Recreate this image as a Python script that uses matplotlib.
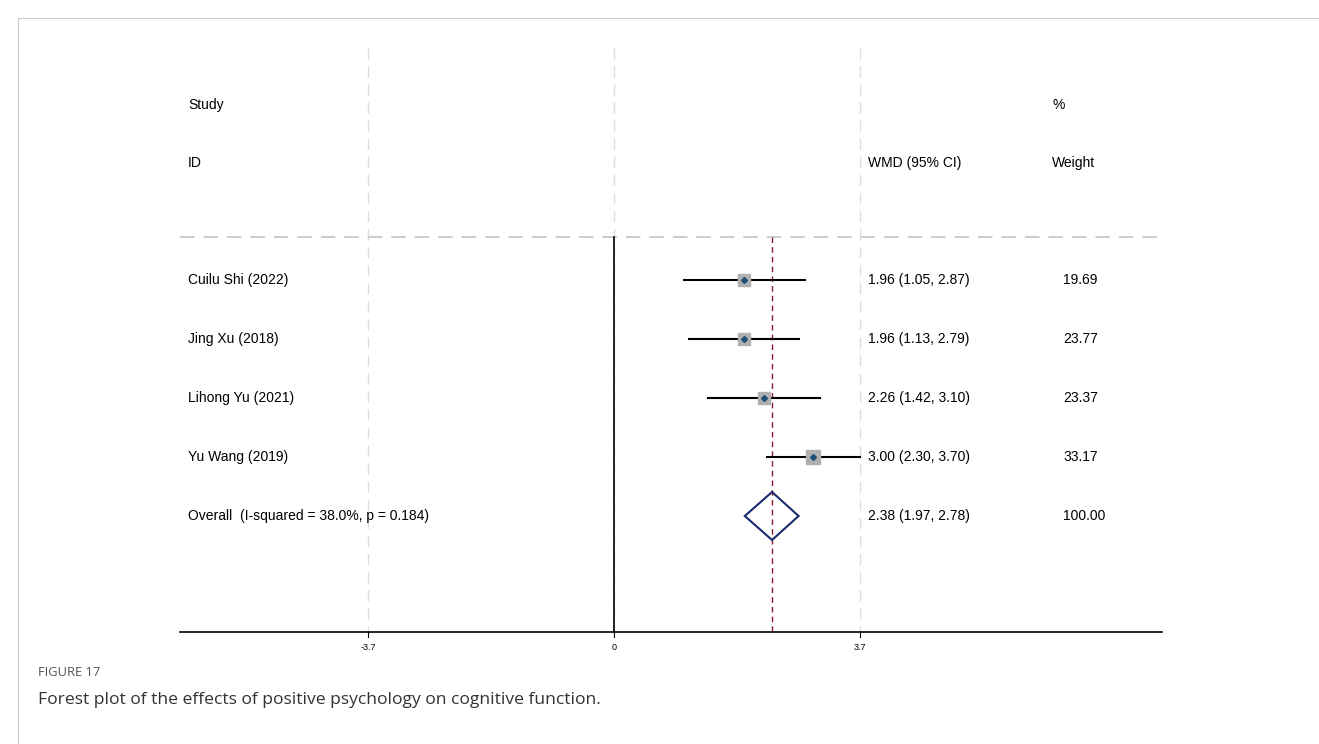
import numpy as np
import matplotlib.pyplot as plt
from matplotlib.patches import Polygon

plt.rcParams['font.family'] = ['Liberation Sans', 'DejaVu Sans']

# data
studies = ["Cuilu Shi (2022)", "Jing Xu (2018)", "Lihong Yu (2021)", "Yu Wang (2019)"]
wmd = [1.96, 1.96, 2.26, 3.00]
lo = [1.05, 1.13, 1.42, 2.30]
hi = [2.87, 2.79, 3.10, 3.70]
weights = [19.69, 23.77, 23.37, 33.17]
overall = (2.38, 1.97, 2.78)
overall_label = "Overall  (I-squared = 38.0%, p = 0.184)"
xticks = [-3.7, 0, 3.7]

# pixel-ish layout: x in data units, y in figure pixels (inverted)
scale = 66.4  # px per unit
x0px = 614
fig = plt.figure(figsize=(13.19, 7.44), dpi=100)
ax = fig.add_axes([0, 0, 1, 1])
ax.set_xlim(-x0px / scale, (1319 - x0px) / scale)
ax.set_ylim(744, 0)
ax.axis("off")

def px(p):
    return (p - x0px) / scale

rows_y = [280 + 59 * i for i in range(len(studies))]
over_y = 280 + 59 * len(studies)
axis_y = 632
fs = 10

# frame border
ax.plot([px(18), px(18), px(1319)], [744, 18, 18], color="#cccccc", lw=0.8)

# grey dashed gridlines
for t in xticks:
    ax.plot([t, t], [48, axis_y], color="#dddddd", lw=1, ls=(0, (8, 5)))
ax.plot([px(180), px(1162)], [237, 237], color="#c8c8c8", lw=1.3, ls=(0, (8, 5)))

# null line and overall line
ax.plot([0, 0], [237, axis_y], color="black", lw=1.2)
ax.plot([overall[0]] * 2, [237, axis_y], color="#8b1a2b", lw=1, ls=(0, (4, 3)))

# x axis
ax.plot([px(180), px(1162)], [axis_y, axis_y], color="black", lw=1.2)
for t in xticks:
    ax.plot([t, t], [axis_y, axis_y + 5], color="black", lw=0.8)
    ax.text(t, axis_y + 16, f"{t:g}", ha="center", va="center", fontsize=6.5)

# headers
ax.text(px(188), 105, "Study", fontsize=fs, va="center")
ax.text(px(188), 163, "ID", fontsize=fs, va="center")
ax.text(px(868), 163, "WMD (95% CI)", fontsize=fs, va="center")
ax.text(px(1052), 105, "%", fontsize=fs, va="center")
ax.text(px(1052), 163, "Weight", fontsize=fs, va="center")

for s, m, l, h, w, y in zip(studies, wmd, lo, hi, weights, rows_y):
    ax.plot([l, h], [y, y], color="black", lw=1.5, zorder=2)
    half = (4.5 + 0.07 * w) / scale
    hy = half * scale
    ax.add_patch(plt.Rectangle((m - half, y - hy), 2 * half, 2 * hy,
                               color="#b0b0b0", zorder=3))
    ax.plot(m, y, "D", color="#1f4e79", ms=3, zorder=4)
    ax.text(px(188), y, s, fontsize=fs, va="center")
    ax.text(px(868), y, f"{m:.2f} ({l:.2f}, {h:.2f})", fontsize=fs, va="center")
    ax.text(px(1063), y, f"{w:.2f}", fontsize=fs, va="center")

m, l, h = overall
ax.add_patch(Polygon([(l, over_y), (m, over_y - 24), (h, over_y), (m, over_y + 24)],
                     closed=True, fill=False, edgecolor="#1a2a6c", lw=1.5, zorder=3))
ax.text(px(188), over_y, overall_label, fontsize=fs, va="center")
ax.text(px(868), over_y, f"{m:.2f} ({l:.2f}, {h:.2f})", fontsize=fs, va="center")
ax.text(px(1063), over_y, "100.00", fontsize=fs, va="center")

# caption
ax.text(px(38), 672, "FIGURE 17", fontsize=9.3, color="#555555", va="center",
        family=["Open Sans", "DejaVu Sans"])
ax.text(px(38), 700, "Forest plot of the effects of positive psychology on cognitive function.",
        fontsize=12.6, color="#333333", va="center", family=["Open Sans", "DejaVu Sans"])

plt.savefig("out.png", dpi=100)
